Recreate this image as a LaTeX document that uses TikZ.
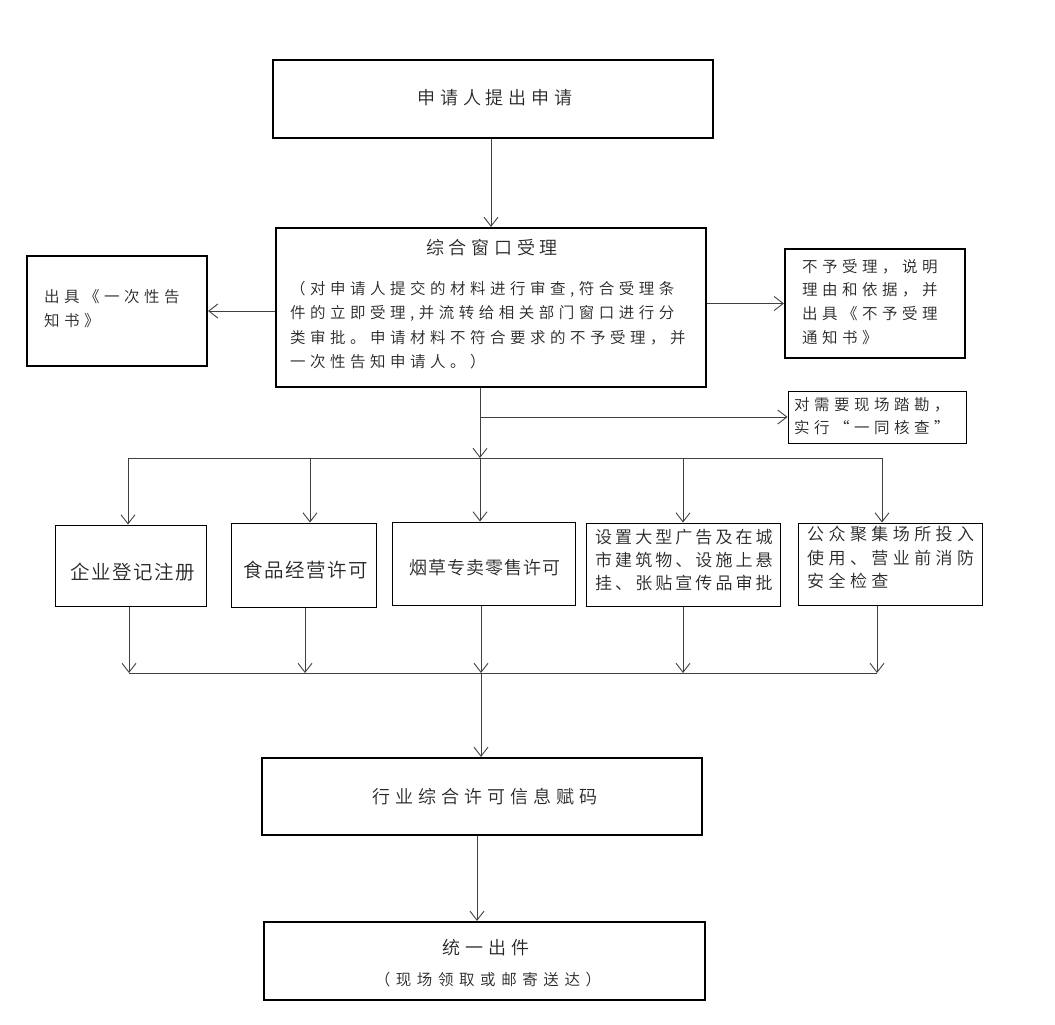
\documentclass[tikz,border=0pt]{standalone}
\usepackage{fontspec}
\usetikzlibrary{arrows.meta}
\newfontfamily\cjk{Noto Sans CJK SC DemiLight}
\newcommand\lsp[3]{\fontsize{#1}{#2}\cjk\addfontfeature{LetterSpace=#3}}
\tikzset{
  thickbox/.style={draw=black, line width=2.2pt, inner sep=0pt},
  thinbox/.style={draw=black, line width=1pt, inner sep=0pt},
  txt/.style={inner sep=0pt, text=black!85},
  conn/.style={draw=black!75, line width=0.9pt},
  arr/.style={conn, -{Straight Barb[length=9pt,width=14pt,line width=0.9pt]}}
}
\begin{document}
\begin{tikzpicture}[x=1pt,y=-1pt]
\useasboundingbox (0,0) rectangle (1055,1025);
% boxes
\node[thickbox, minimum width=440pt, minimum height=78pt] (b1) at (493,99) {};
\node[thickbox, minimum width=430pt, minimum height=159pt] (b2) at (491,307.5) {};
\node[thickbox, minimum width=180pt, minimum height=110pt] (bl) at (117,311) {};
\node[thickbox, minimum width=180pt, minimum height=109pt] (br) at (875,303.5) {};
\node[thinbox, minimum width=178pt, minimum height=52pt] (bs) at (877,417) {};
\node[thinbox, minimum width=151pt, minimum height=81pt] (r1) at (130.5,565.5) {};
\node[thinbox, minimum width=145pt, minimum height=84pt] (r2) at (303.5,565) {};
\node[thinbox, minimum width=183pt, minimum height=83pt] (r3) at (483.5,563.5) {};
\node[thinbox, minimum width=194pt, minimum height=83pt] (r4) at (683,564.5) {};
\node[thinbox, minimum width=184pt, minimum height=82pt] (r5) at (890,564) {};
\node[thickbox, minimum width=440pt, minimum height=77pt] (b3) at (482,796.5) {};
\node[thickbox, minimum width=441pt, minimum height=78pt] (b4) at (484.5,961) {};
% texts
\node[txt, font=\lsp{18}{20}{26}] (t1) at (495,98) {申请人提出申请};
\node[txt, font=\lsp{18}{20}{26}] (t2) at (492,248) {综合窗口受理};
\node[txt, font=\lsp{15.5}{24.5}{29}, align=left, anchor=north west] (t2b) at (290,281)
  {（对申请人提交的材料进行审查,符合受理条\\件的立即受理,并流转给相关部门窗口进行分\\类审批。申请材料不符合要求的不予受理，并\\一次性告知申请人。）};
\node[txt, font=\lsp{15.5}{24}{29}, align=left, anchor=north west] (tl) at (44,289) {出具《一次性告\\知书》};
\node[txt, font=\lsp{15.5}{23.7}{29}, align=left, anchor=north west] (tr) at (802,259)
  {不予受理，说明\\理由和依据，并\\出具《不予受理\\通知书》};
\node[txt, font=\lsp{15.5}{23}{29}, align=left, anchor=north west] (ts) at (794,397)
  {对需要现场踏勘，\\实行“一同核查”};
\node[txt, font=\lsp{19.5}{22}{8}] (tr1) at (133,572) {企业登记注册};
\node[txt, font=\lsp{19.5}{22}{8}] (tr2) at (306,570) {食品经营许可};
\node[txt, font=\lsp{18}{22}{6}] (tr3) at (485,568) {烟草专卖零售许可};
\node[txt, font=\lsp{17}{23}{18}, align=left, anchor=north west] (tr4) at (595,529)
  {设置大型广告及在城\\市建筑物、设施上悬\\挂、张贴宣传品审批};
\node[txt, font=\lsp{17}{23.5}{26}, align=left, anchor=north west] (tr5) at (807,526)
  {公众聚集场所投入\\使用、营业前消防\\安全检查};
\node[txt, font=\lsp{18}{20}{28}] (t3) at (485,797) {行业综合许可信息赋码};
\node[txt, font=\lsp{18}{20}{26}] (t4) at (486,948) {统一出件};
\node[txt, font=\lsp{15.5}{20}{36}] (t4b) at (488,980) {（现场领取或邮寄送达）};
% coordinates
\coordinate (j0) at (480,417);
\coordinate (j1) at (480,458);
\coordinate (a1) at (128,458);
\coordinate (a2) at (310,458);
\coordinate (a4) at (683,458);
\coordinate (a5) at (882,458);
\coordinate (u1) at (129,673);
\coordinate (u2) at (305,673);
\coordinate (u3) at (481,673);
\coordinate (u4) at (683,673);
\coordinate (u5) at (877,673);
\coordinate (v) at (477,0);
% connectors
\draw[arr] (b1.south -| b2.north) -- (b2.north);
\draw[arr] (b2.west |- bl.east) -- (bl.east);
\draw[arr] (b2.east |- br.west) -- (br.west);
\draw[arr] (b2.south -| j1) -- (j1);
\draw[arr] (j0) -- (j0 -| bs.west);
\draw[conn] (a1) -- (a5);
\draw[arr] (a1) -- (a1 |- r1.north);
\draw[arr] (a2) -- (a2 |- r2.north);
\draw[arr] (j1) -- (j1 |- r3.north);
\draw[arr] (a4) -- (a4 |- r4.north);
\draw[arr] (a5) -- (a5 |- r5.north);
\draw[arr] (u1 |- r1.south) -- (u1);
\draw[arr] (u2 |- r2.south) -- (u2);
\draw[arr] (u3 |- r3.south) -- (u3);
\draw[arr] (u4 |- r4.south) -- (u4);
\draw[arr] (u5 |- r5.south) -- (u5);
\draw[conn] (u1) -- (u5);
\draw[arr] (u3) -- (u3 |- b3.north);
\draw[arr] (b3.south -| v) -- (b4.north -| v);
\end{tikzpicture}
\end{document}
